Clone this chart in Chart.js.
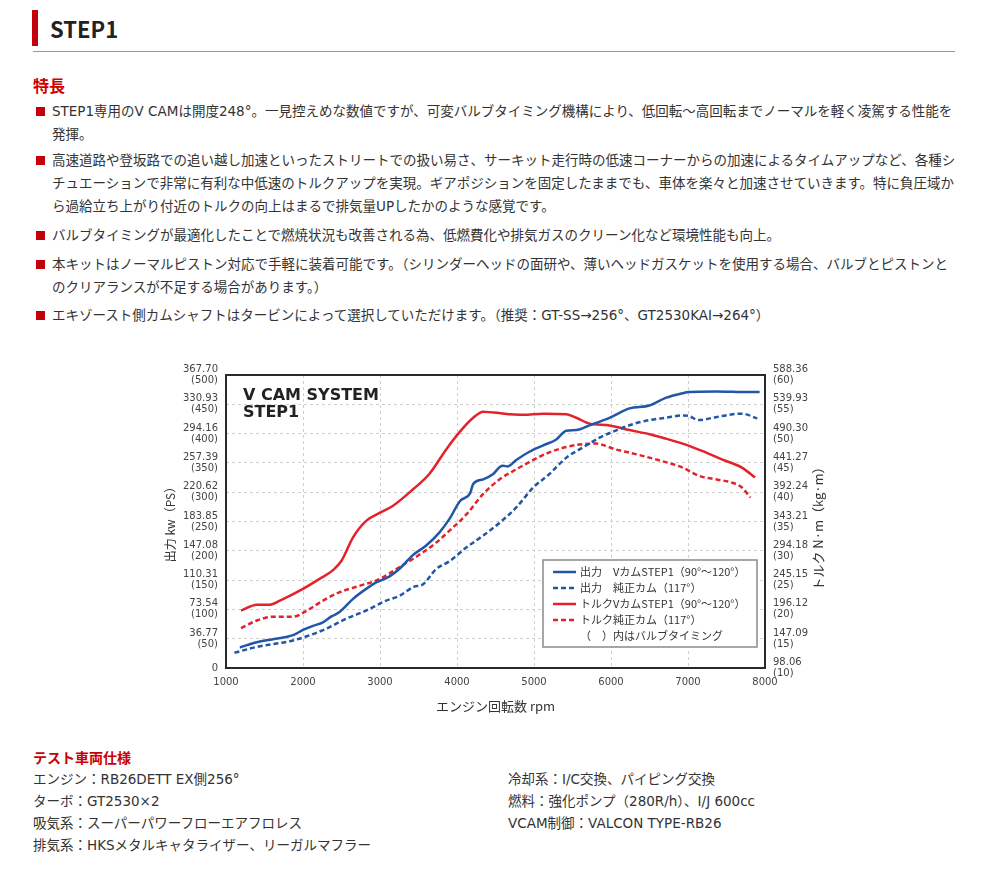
<!DOCTYPE html>
<html lang="ja">
<head>
<meta charset="utf-8">
<script src="https://cdn.jsdelivr.net/npm/chart.js@4.4.0/dist/chart.umd.min.js"></script>
<style>
  html,body{margin:0;padding:0;background:#fff;}
  body{width:1000px;height:880px;position:relative;overflow:hidden;font-family:'Noto Sans CJK JP','Noto Sans',sans-serif;color:#333;}
  .abs{position:absolute;white-space:nowrap;}
  .bar{left:32px;top:10px;width:6px;height:36px;background:#c4000b;}
  .h2{left:50px;top:10px;height:36px;line-height:36px;font-size:22px;font-weight:bold;color:#222;}
  .rule{left:33px;top:51px;width:922px;height:1px;background:#999;}
  .h3{left:33px;font-size:16px;font-weight:bold;color:#c00;line-height:24px;}
  .p{left:52px;font-size:13.5px;line-height:23px;font-family:'DejaVu Sans','Noto Sans CJK JP',sans-serif;}
  .sq{position:absolute;left:-16px;top:7px;width:9px;height:9px;background:#c4000b;}
  .spec{font-size:13.5px;line-height:22px;font-family:'DejaVu Sans','Noto Sans CJK JP',sans-serif;}
  .spech{left:33px;font-size:14px;font-weight:bold;color:#c00;line-height:22px;}
  #wrap{position:absolute;left:150px;top:355px;width:700px;height:370px;}
</style>
</head>
<body>
<div class="abs bar"></div>
<div class="abs h2">STEP1</div>
<div class="abs rule"></div>
<div class="abs h3" style="top:73px;">特長</div>

<div class="abs p" style="top:100px;"><span class="sq"></span>STEP1専用のV CAMは開度248°。一見控えめな数値ですが、可変バルブタイミング機構により、低回転～高回転までノーマルを軽く凌駕する性能を<br>発揮。</div>
<div class="abs p" style="top:149px;"><span class="sq"></span>高速道路や登坂路での追い越し加速といったストリートでの扱い易さ、サーキット走行時の低速コーナーからの加速によるタイムアップなど、各種シ<br>チュエーションで非常に有利な中低速のトルクアップを実現。ギアポジションを固定したままでも、車体を楽々と加速させていきます。特に負圧域か<br>ら過給立ち上がり付近のトルクの向上はまるで排気量UPしたかのような感覚です。</div>
<div class="abs p" style="top:224px;"><span class="sq"></span>バルブタイミングが最適化したことで燃焼状況も改善される為、低燃費化や排気ガスのクリーン化など環境性能も向上。</div>
<div class="abs p" style="top:253px;"><span class="sq"></span>本キットはノーマルピストン対応で手軽に装着可能です。（シリンダーヘッドの面研や、薄いヘッドガスケットを使用する場合、バルブとピストンと<br>のクリアランスが不足する場合があります。）</div>
<div class="abs p" style="top:304px;"><span class="sq"></span>エキゾースト側カムシャフトはタービンによって選択していただけます。（推奨：GT-SS→256°、GT2530KAI→264°）</div>

<div id="wrap"><canvas id="c" width="700" height="370"></canvas></div>

<div class="abs spech" style="top:746px;">テスト車両仕様</div>
<div class="abs spec" style="left:33px;top:768px;">エンジン：RB26DETT EX側256°<br>ターボ：GT2530×2<br>吸気系：スーパーパワーフローエアフロレス<br>排気系：HKSメタルキャタライザー、リーガルマフラー</div>
<div class="abs spec" style="left:508px;top:768px;">冷却系：I/C交換、パイピング交換<br>燃料：強化ポンプ（280R/h）、I/J 600cc<br>VCAM制御：VALCON TYPE-RB26</div>

<script>
// ---- data ----
const powerVcamRpm = [1180,1400,1610,1870,2000,2130,2260,2370,2470,2650,2820,2950,3120,3250,3430,3600,3770,3900,4040,4170,4210,4340,4470,4555,4600,4660,4770,4940,5120,5290,5420,5550,5720,5980,6240,6500,6710,6930,7010,7360,7790,7930];
const powerVcamPs  = [35,44,49,56,65,72,78,88,95,118,135,146,156,169,193,209,231,254,285,298,314,322,331,343,345,344,355,369,380,390,405,406,414,427,443,448,461,469,471,472,471,471];

const powerStockRpm = [1110,1400,1870,2090,2300,2560,2820,3080,3250,3430,3560,3730,3900,4125,4340,4555,4770,4990,5200,5420,5630,5850,6060,6280,6500,6710,6930,7010,7140,7360,7580,7700,7900];
const powerStockPs  = [26,36,47,56,67,84,98,115,123,138,143,169,182,206,226,248,274,308,331,359,376,393,405,416,423,427,431,430,423,428,433,434,426];

const torqueVcamRpm = [1195,1400,1570,1700,2000,2215,2390,2500,2650,2820,3000,3170,3430,3640,3860,4030,4210,4340,4470,4860,5120,5420,5550,5720,5980,6240,6500,6670,6930,7190,7440,7700,7870];
const torqueVcamKgm = [19.8,20.8,20.8,21.5,23.5,25.2,26.7,28.3,32.3,35.1,36.5,37.7,40.5,43.1,47.3,50.2,52.7,53.75,53.6,53.2,53.4,53.3,52.7,51.7,51.4,50.6,49.9,49.3,48.3,47.0,45.6,44.2,42.5];

const torqueStockRpm = [1195,1400,1610,1870,2050,2260,2470,2730,3000,3250,3520,3730,3900,4125,4340,4555,4770,4990,5200,5420,5630,5800,6060,6320,6580,6930,7140,7360,7580,7700,7810];
const torqueStockKgm = [16.8,18.1,18.75,18.75,19.8,21.5,22.9,24.0,25.2,27.2,29.4,31.4,33.4,36.25,39.7,42.2,43.9,45.5,46.8,47.7,48.2,48.3,47.3,46.5,45.6,44.2,42.8,42.2,41.6,40.8,39.1];

const seriesLabels = ['出力　VカムSTEP1（90°～120°）','出力　純正カム（117°）','トルクVカムSTEP1（90°～120°）','トルク純正カム（117°）'];
const legendNote = '（　）内はバルブタイミング';

const leftKwLabels  = ['0','36.77','73.54','110.31','147.08','183.85','220.62','257.39','294.16','330.93','367.70'];
const leftPsLabels  = ['','(50)','(100)','(150)','(200)','(250)','(300)','(350)','(400)','(450)','(500)'];
const rightNmLabels = ['98.06','147.09','196.12','245.15','294.18','343.21','392.24','441.27','490.30','539.93','588.36'];
const rightKgmLabels= ['(10)','(15)','(20)','(25)','(30)','(35)','(40)','(45)','(50)','(55)','(60)'];

const chartTitle = ['V CAM SYSTEM','STEP1'];
const xAxisTitle = 'エンジン回転数 rpm';
const leftAxisTitle = '出力 kw（PS）';
const rightAxisTitle = 'トルク N·m（kg·m）';

// ---- build ----
const BLUE = '#2256a6', RED = '#e3222b';
const pts = (xs, ys) => xs.map((x, i) => ({x, y: ys[i]}));

const decor = {
  id: 'decor',
  afterDatasetsDraw(chart) {
    const {ctx, chartArea: a} = chart;
    ctx.save();
    ctx.setLineDash([]);
    ctx.strokeStyle = '#2a2a2a'; ctx.lineWidth = 2;
    ctx.strokeRect(a.left, a.top, a.right - a.left, a.bottom - a.top);

    ctx.fillStyle = '#222';
    ctx.font = "bold 16px 'DejaVu Sans'";
    ctx.textBaseline = 'middle'; ctx.textAlign = 'left';
    chartTitle.forEach((t, i) => ctx.fillText(t, a.left + 17, a.top + 21 + i * 17));

    ctx.save();
    ctx.translate(a.right + 53, (a.top + a.bottom) / 2 + 4);
    ctx.rotate(-Math.PI / 2);
    ctx.font = "13px 'Noto Sans CJK JP'"; ctx.fillStyle = '#333'; ctx.textAlign = 'center';
    ctx.fillText(rightAxisTitle, 0, 0);
    ctx.restore();

    // legend box
    const bx = a.right - 222, by = a.bottom - 108, bw = 214, bh = 87;
    ctx.fillStyle = '#fff'; ctx.fillRect(bx, by, bw, bh);
    ctx.strokeStyle = '#8a8a8a'; ctx.lineWidth = 1.5; ctx.strokeRect(bx, by, bw, bh);
    ctx.font = "11px 'Noto Sans CJK JP'"; ctx.textAlign = 'left'; ctx.textBaseline = 'middle';
    chart.data.datasets.forEach((ds, i) => {
      const y = by + 12 + i * 16;
      ctx.strokeStyle = ds.borderColor; ctx.lineWidth = 2.5;
      ctx.setLineDash(ds.borderDash || []);
      ctx.beginPath(); ctx.moveTo(bx + 10, y); ctx.lineTo(bx + 33, y); ctx.stroke();
      ctx.setLineDash([]);
      ctx.fillStyle = '#333'; ctx.fillText(ds.label, bx + 37, y);
    });
    ctx.fillText(legendNote, bx + 37, by + 12 + 4 * 16);
    ctx.restore();
  }
};

const gridOpts = {color: '#cfcfcf', lineWidth: 1, drawTicks: false};
const tickFont = {family: "'DejaVu Sans'", size: 10, lineHeight: 1.1};

new Chart(document.getElementById('c'), {
  type: 'line',
  data: {
    datasets: [
      {label: seriesLabels[0], data: pts(powerVcamRpm, powerVcamPs), yAxisID: 'y', borderColor: BLUE, borderWidth: 2.5},
      {label: seriesLabels[1], data: pts(powerStockRpm, powerStockPs), yAxisID: 'y', borderColor: BLUE, borderWidth: 2.5, borderDash: [5, 3]},
      {label: seriesLabels[2], data: pts(torqueVcamRpm, torqueVcamKgm), yAxisID: 'y2', borderColor: RED, borderWidth: 2.5},
      {label: seriesLabels[3], data: pts(torqueStockRpm, torqueStockKgm), yAxisID: 'y2', borderColor: RED, borderWidth: 2.5, borderDash: [5, 3]}
    ]
  },
  options: {
    responsive: false, animation: false, devicePixelRatio: 1,
    layout: {padding: {top: 20, left: 0, right: 0, bottom: 0}},
    elements: {point: {radius: 0}, line: {cubicInterpolationMode: 'monotone', fill: false}},
    plugins: {legend: {display: false}, tooltip: {enabled: false}},
    scales: {
      x: {
        type: 'linear', min: 1000, max: 8000,
        ticks: {stepSize: 1000, font: tickFont, color: '#444', padding: 9, maxRotation: 0, callback: v => String(v)},
        grid: gridOpts, border: {display: false, dash: [3, 3]},
        title: {display: true, text: xAxisTitle, font: {family: "'Noto Sans CJK JP'", size: 13}, color: '#333', padding: {top: 0, bottom: 11}},
        afterFit: s => { s.height = 57; }
      },
      y: {
        position: 'left', min: 0, max: 500,
        ticks: {stepSize: 50, font: tickFont, color: '#444', padding: 8,
          callback: (v, i) => leftPsLabels[i] ? [leftKwLabels[i], leftPsLabels[i]] : leftKwLabels[i]},
        grid: gridOpts, border: {display: false, dash: [3, 3]},
        title: {display: true, text: leftAxisTitle, font: {family: "'Noto Sans CJK JP'", size: 12}, color: '#333', padding: {top: 13, bottom: 0}},
        afterFit: s => { s.width = 76; }
      },
      y2: {
        position: 'right', min: 10, max: 60,
        ticks: {stepSize: 5, font: tickFont, color: '#444', padding: 8,
          callback: (v, i) => [rightNmLabels[i], rightKgmLabels[i]]},
        grid: {display: false, drawTicks: false}, border: {display: false},
        afterFit: s => { s.width = 85; }
      }
    }
  },
  plugins: [decor]
});
</script>
</body>
</html>
